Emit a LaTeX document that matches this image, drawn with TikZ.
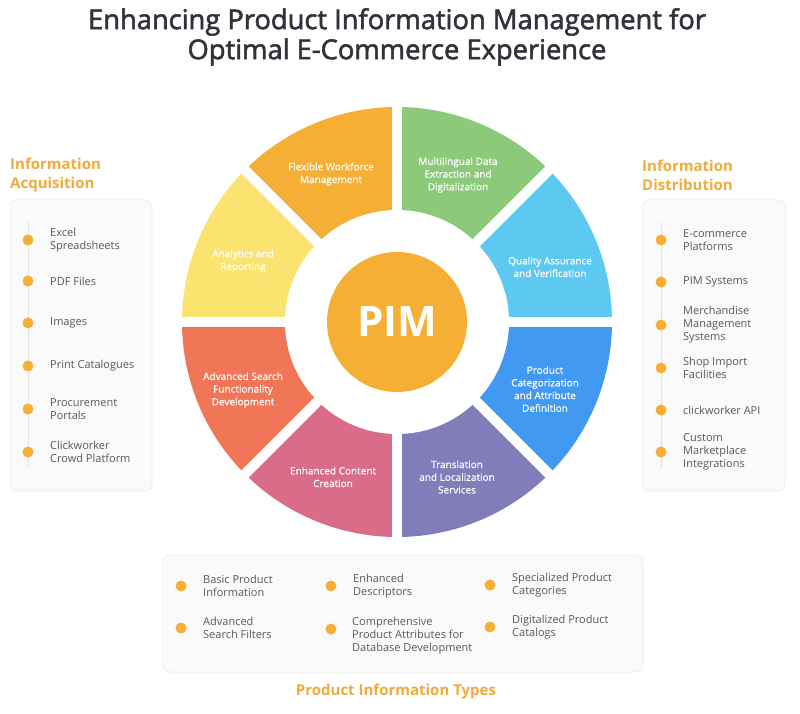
\documentclass[tikz,border=0pt]{standalone}
\usepackage{fontspec}
\setmainfont{Open Sans}
\newfontfamily\wheelfont[FakeBold=0.6]{Open Sans}
\newfontfamily\titlefont[FakeBold=2]{Open Sans}
\definecolor{pimorange}{HTML}{F5AF35}
\definecolor{headorange}{HTML}{F2AA3C}
\definecolor{titlegray}{HTML}{30343A}
\definecolor{itemgray}{HTML}{585858}
\definecolor{panelfill}{HTML}{FAFAFA}
\definecolor{panelline}{HTML}{ECECEC}
\definecolor{railgray}{HTML}{E2E2E2}
\definecolor{qacol}{HTML}{5DC8F0}
\definecolor{mlcol}{HTML}{8DC97A}
\definecolor{fwcol}{HTML}{F5AF35}
\definecolor{arcol}{HTML}{FAE46F}
\definecolor{ascol}{HTML}{F07657}
\definecolor{eccol}{HTML}{D96C88}
\definecolor{tlcol}{HTML}{807DB8}
\definecolor{pccol}{HTML}{4199F2}
\begin{document}
\begin{tikzpicture}[x=1pt,y=1pt,
  item/.style={anchor=west, inner sep=0, align=left, text=itemgray,
    font=\fontsize{11}{13}\selectfont},
  heading/.style={text=headorange, inner sep=0, align=left,
    font=\fontsize{15}{19}\selectfont\bfseries},
  panel/.style={draw=panelline, fill=panelfill, rounded corners=7, line width=0.7},
  seglabel/.style={text=white, align=center, inner sep=0,
    font=\wheelfont\fontsize{10}{12.7}\selectfont}]
  \useasboundingbox (0,0) rectangle (800,713);
  \fill[white] (0,0) rectangle (800,713);
  % title
  \node[text=titlegray, align=center, inner sep=0,
    font=\titlefont\fontsize{27.3}{30}\selectfont] (title) at (397,676)
    {Enhancing Product Information Management for\\Optimal E-Commerce Experience};
  % wheel
  \begin{scope}[shift={(397,391)}]
    \foreach \a/\c in {0/qacol,45/mlcol,90/fwcol,135/arcol,180/ascol,225/eccol,270/tlcol,315/pccol}{
      \fill[\c] (0,0) -- (\a:215) arc[start angle=\a, end angle=\a+45, radius=215] -- cycle;
    }
    \foreach \a in {0,45,...,315}{
      \draw[white, line width=10] (0,0) -- (\a:225);
    }
    \fill[white] (0,0) circle (112);
    \node[circle, fill=pimorange, minimum size=140, inner sep=0, text=white,
      font=\fontsize{42}{42}\selectfont\bfseries] (pim) at (0,0) {PIM};
  \end{scope}
  \node[seglabel] (flexible) at (331,539) {Flexible Workforce\\Management};
  \node[seglabel] (multilingual) at (458,538) {Multilingual Data\\Extraction and\\Digitalization};
  \node[seglabel] (quality) at (550,446) {Quality Assurance\\and Verification};
  \node[seglabel] (categorization) at (545,324) {Product\\Categorization\\and Attribute\\Definition};
  \node[seglabel] (translation) at (457,236) {Translation\\and Localization\\Services};
  \node[seglabel] (content) at (333,236) {Enhanced Content\\Creation};
  \node[seglabel] (search) at (243,323) {Advanced Search\\Functionality\\Development};
  \node[seglabel] (analytics) at (243,452) {Analytics and\\Reporting};
  % information acquisition
  \node[heading, anchor=west] (acqhead) at (10,538) {Information\\Acquisition};
  \draw[panel] (10,513) rectangle (152,222);
  \draw[railgray, line width=0.8] (28,491) -- (28,245);
  \foreach \y/\t [count=\i] in {473/{Excel\\Spreadsheets}, 432/{PDF Files}, 390/{Images},
      347/{Print Catalogues}, 304/{Procurement\\Portals}, 261/{Clickworker\\Crowd Platform}}{
    \fill[pimorange] (28,\y) circle (5.5);
    \node[item] (acq\i) at (50,\y) {\t};
  }
  % information distribution
  \node[heading, anchor=west] (dishead) at (642,538) {Information\\Distribution};
  \draw[panel] (642,513) rectangle (785,222);
  \draw[railgray, line width=0.8] (661,491) -- (661,245);
  \foreach \y/\t [count=\i] in {473/{E-commerce\\Platforms}, 431/{PIM Systems},
      388/{Merchandise\\Management\\Systems}, 345/{Shop Import\\Facilities},
      303/{clickworker API}, 261/{Custom\\Marketplace\\Integrations}}{
    \fill[pimorange] (661,\y) circle (5.5);
    \node[item] (dis\i) at (683,\y) {\t};
  }
  % product information types
  \draw[panel] (163,158) rectangle (643,41);
  \foreach \x/\y/\t [count=\i] in {181/127/{Basic Product\\Information}, 181/85/{Advanced\\Search Filters},
      331/127/{Enhanced\\Descriptors}, 490/128/{Specialized Product\\Categories},
      490/86/{Digitalized Product\\Catalogs}}{
    \fill[pimorange] (\x,\y) circle (5.5);
    \node[item] (type\i) at (\x+22,\y) {\t};
  }
  \fill[pimorange] (331,84) circle (5.5);
  \node[item] (type6) at (352,77) {Comprehensive\\Product Attributes for\\Database Development};
  \node[heading, anchor=center] (typehead) at (396,21) {Product Information Types};
\end{tikzpicture}
\end{document}
